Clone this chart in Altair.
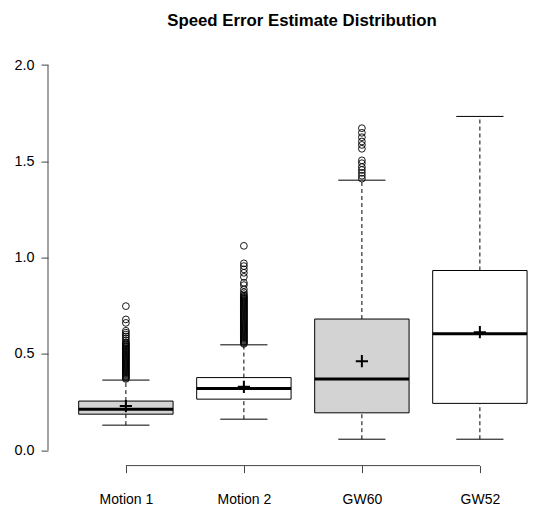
import json
import altair as alt
import pandas as pd

# ---- data ----
categories = ["Motion 1", "Motion 2", "GW60", "GW52"]
positions = [1, 2, 3, 4]
whisker_low = [0.130, 0.161, 0.057, 0.057]
q1 = [0.187, 0.265, 0.194, 0.243]
medians = [0.213, 0.320, 0.370, 0.604]
q3 = [0.255, 0.377, 0.681, 0.933]
whisker_high = [0.364, 0.547, 1.402, 1.733]
means = [0.229, 0.329, 0.462, 0.613]
box_fill = ["#D3D3D3", "#FFFFFF", "#D3D3D3", "#FFFFFF"]

out_motion1 = [0.370, 0.375, 0.380, 0.385, 0.390, 0.395, 0.400, 0.405, 0.410,
               0.415, 0.420, 0.425, 0.430, 0.435, 0.440, 0.445, 0.450, 0.455,
               0.460, 0.465, 0.470, 0.475, 0.480, 0.485, 0.490, 0.495, 0.500,
               0.505, 0.510, 0.515, 0.520, 0.525, 0.530, 0.535, 0.540, 0.545,
               0.550, 0.555, 0.560, 0.570, 0.580, 0.590, 0.600, 0.610, 0.620,
               0.661, 0.679, 0.748]
out_motion2 = [0.552, 0.557, 0.562, 0.567, 0.572, 0.577, 0.582, 0.587, 0.592,
               0.597, 0.602, 0.607, 0.612, 0.617, 0.622, 0.627, 0.632, 0.637,
               0.642, 0.647, 0.652, 0.657, 0.662, 0.667, 0.672, 0.677, 0.682,
               0.687, 0.692, 0.697, 0.702, 0.707, 0.712, 0.717, 0.722, 0.727,
               0.732, 0.737, 0.742, 0.747, 0.752, 0.757, 0.762, 0.767, 0.772,
               0.777, 0.782, 0.787, 0.792, 0.797, 0.802, 0.810, 0.820, 0.835,
               0.857, 0.869, 0.900, 0.921, 0.939, 0.956, 0.970, 1.061]
out_gw60 = [1.410, 1.425, 1.440, 1.455, 1.470, 1.490, 1.505,
            1.565, 1.585, 1.603, 1.625, 1.648, 1.672]
out_gw52 = []

y_ticks = [0.0, 0.5, 1.0, 1.5, 2.0]

# ---- tables ----
box_df = pd.DataFrame({
    "cat": categories, "pos": positions, "lo": whisker_low, "q1": q1,
    "med": medians, "q3": q3, "hi": whisker_high, "mean": means, "fill": box_fill,
})
out_rows = []
for p, vals in zip(positions, [out_motion1, out_motion2, out_gw60, out_gw52]):
    for v in vals:
        out_rows.append({"pos": p, "val": v})
out_df = pd.DataFrame(out_rows)

FONT = "Liberation Sans, Arial, Helvetica, sans-serif"
W, H = 488, 416
xscale = alt.Scale(domain=[0.34, 0.34 + W / 118.0], nice=False, zero=False)
yscale = alt.Scale(domain=[-0.08, 2.08], nice=False, zero=False)

label_expr = json.dumps(categories) + "[datum.value - 1]"
xaxis = alt.Axis(values=positions, labelExpr=label_expr, domain=False, grid=False,
                 ticks=True, tickSize=7, tickColor="#444", labelFontSize=14,
                 labelFont=FONT, labelColor="#000", labelPadding=20, title=None)
yaxis = alt.Axis(values=y_ticks, format=".1f", domain=False, grid=False,
                 ticks=True, tickSize=7, tickColor="#444", labelFontSize=14.4,
                 labelFont=FONT, labelColor="#000", labelPadding=7, title=None)

base = alt.Chart(box_df).transform_calculate(
    xl="datum.pos - 0.4", xr="datum.pos + 0.4",
    sl="datum.pos - 0.2", sr="datum.pos + 0.2",
)

whisk_up = base.mark_rule(color="#000", strokeWidth=1, strokeDash=[4, 3]).encode(
    x=alt.X("pos:Q", scale=xscale, axis=xaxis),
    y=alt.Y("q3:Q", scale=yscale, axis=yaxis), y2="hi:Q")
whisk_dn = base.mark_rule(color="#000", strokeWidth=1, strokeDash=[4, 3]).encode(
    x=alt.X("pos:Q", scale=xscale), y=alt.Y("lo:Q", scale=yscale), y2="q1:Q")
staple_hi = base.mark_rule(color="#000", strokeWidth=1).encode(
    x=alt.X("sl:Q", scale=xscale), x2="sr:Q", y=alt.Y("hi:Q", scale=yscale))
staple_lo = base.mark_rule(color="#000", strokeWidth=1).encode(
    x=alt.X("sl:Q", scale=xscale), x2="sr:Q", y=alt.Y("lo:Q", scale=yscale))
boxes = base.mark_rect(stroke="#000", strokeWidth=1).encode(
    x=alt.X("xl:Q", scale=xscale), x2="xr:Q",
    y=alt.Y("q1:Q", scale=yscale), y2="q3:Q",
    fill=alt.Fill("fill:N", scale=None))
med = base.mark_rule(color="#000", strokeWidth=3).encode(
    x=alt.X("xl:Q", scale=xscale), x2="xr:Q", y=alt.Y("med:Q", scale=yscale))
mean_pts = base.mark_point(shape="M-1,0L1,0M0,-1L0,1", size=150, color="#000",
                           strokeWidth=2, filled=False, opacity=1).encode(
    x=alt.X("pos:Q", scale=xscale), y=alt.Y("mean:Q", scale=yscale))
outliers = alt.Chart(out_df).mark_point(shape="circle", size=46, filled=False,
                                        color="#000", strokeWidth=0.9, opacity=1).encode(
    x=alt.X("pos:Q", scale=xscale), y=alt.Y("val:Q", scale=yscale))

span_df = pd.DataFrame({"a": [0.0], "b": [2.0], "c": [1], "d": [4]})
y_line = alt.Chart(span_df).mark_rule(color="#444", strokeWidth=1).encode(
    x=alt.value(0), y=alt.Y("a:Q", scale=yscale), y2="b:Q")
x_line = alt.Chart(span_df).mark_rule(color="#444", strokeWidth=1).encode(
    x=alt.X("c:Q", scale=xscale), x2="d:Q", y=alt.value(H))

chart = alt.layer(
    whisk_up, whisk_dn, staple_hi, staple_lo, boxes, med, outliers, mean_pts,
    y_line, x_line,
).properties(
    width=W, height=H,
    background="#FFFFFF",
    title=alt.TitleParams("Speed Error Estimate Distribution", font=FONT,
                          fontSize=16.8, fontWeight="bold", color="#000",
                          anchor="middle", frame="group", dx=10, offset=20),
    padding={"left": 40, "top": 41.6, "right": 0, "bottom": 41},
    autosize=alt.AutoSizeParams(type="none"),
).configure_view(stroke="transparent", strokeWidth=0)

chart.save("out.html", embed_options={"renderer": "svg", "actions": False})
